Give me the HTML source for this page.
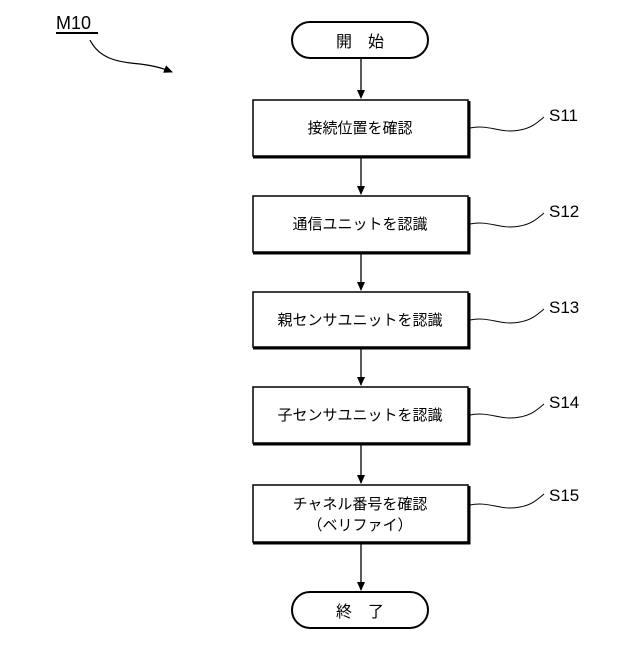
<!DOCTYPE html>
<html><head><meta charset="utf-8"><style>
body{margin:0;background:#fff}
svg text{font-family:"Liberation Sans","Noto Sans CJK JP",sans-serif;fill:#000}
</style></head><body>
<svg width="640" height="640" viewBox="0 0 640 640" xmlns="http://www.w3.org/2000/svg">
<defs><marker id="a" markerWidth="10" markerHeight="10" refX="8" refY="4" orient="auto" markerUnits="userSpaceOnUse"><path d="M0,0 L9,4 L0,8 Z" fill="#000"/></marker></defs>
<text x="56" y="29" font-size="18">M10</text>
<line x1="56" y1="33" x2="98" y2="33" stroke="#000" stroke-width="2"/>
<path d="M90,40 C100,60 120,62 140,64 C155,66 162,68 172,72" fill="none" stroke="#000" stroke-width="1.2" marker-end="url(#a)"/>
<g stroke="#000" fill="#fff">
<rect x="292" y="22" width="136" height="36" rx="18" stroke-width="2"/>
<rect x="292" y="592" width="136" height="36" rx="18" stroke-width="2"/>
</g>
<text x="360" y="47" font-size="16" text-anchor="middle">開　始</text>
<text x="360" y="617" font-size="16" text-anchor="middle">終　了</text>
<g stroke="#000" stroke-width="1.3" fill="none">
<line x1="361" y1="58" x2="361" y2="98" marker-end="url(#a)"/>
<line x1="361" y1="158" x2="361" y2="194" marker-end="url(#a)"/>
<line x1="361" y1="254" x2="361" y2="290" marker-end="url(#a)"/>
<line x1="361" y1="349" x2="361" y2="385" marker-end="url(#a)"/>
<line x1="361" y1="445" x2="361" y2="483" marker-end="url(#a)"/>
<line x1="361" y1="544" x2="361" y2="590" marker-end="url(#a)"/>
</g>
<g stroke="#000" fill="#fff">
<rect x="253" y="100" width="215" height="56" stroke-width="1.5"/>
<rect x="253" y="196" width="215" height="56" stroke-width="1.5"/>
<rect x="253" y="292" width="215" height="55" stroke-width="1.5"/>
<rect x="253" y="387" width="215" height="56" stroke-width="1.5"/>
<rect x="253" y="485" width="215" height="57" stroke-width="1.5"/>
</g>
<g stroke="#000" stroke-width="3" fill="none">
<path d="M469,101 V157 H253"/><path d="M469,197 V253 H253"/><path d="M469,293 V348 H253"/><path d="M469,388 V444 H253"/><path d="M469,486 V543 H253"/>
</g>
<g font-size="15" text-anchor="middle">
<text x="360" y="133">接続位置を確認</text>
<text x="360" y="229">通信ユニットを認識</text>
<text x="360" y="325">親センサユニットを認識</text>
<text x="360" y="420">子センサユニットを認識</text>
<text x="360" y="509">チャネル番号を確認</text>
<text x="360" y="530">（ベリファイ）</text>
</g>
<g stroke="#000" stroke-width="1" fill="none">
<path d="M470,128 C490,124 500,134 520,130 C532,128 538,122 544,117"/>
<path d="M470,224 C490,220 500,230 520,226 C532,224 538,218 544,213"/>
<path d="M470,320 C490,316 500,326 520,322 C532,320 538,314 544,309"/>
<path d="M470,415 C490,411 500,421 520,417 C532,415 538,409 544,404"/>
<path d="M470,505 C490,501 500,511 520,507 C532,505 538,499 544,494"/>
</g>
<g font-size="17">
<text x="549" y="121">S11</text>
<text x="549" y="217">S12</text>
<text x="549" y="313">S13</text>
<text x="549" y="408">S14</text>
<text x="549" y="501">S15</text>
</g>
</svg>
</body></html>
